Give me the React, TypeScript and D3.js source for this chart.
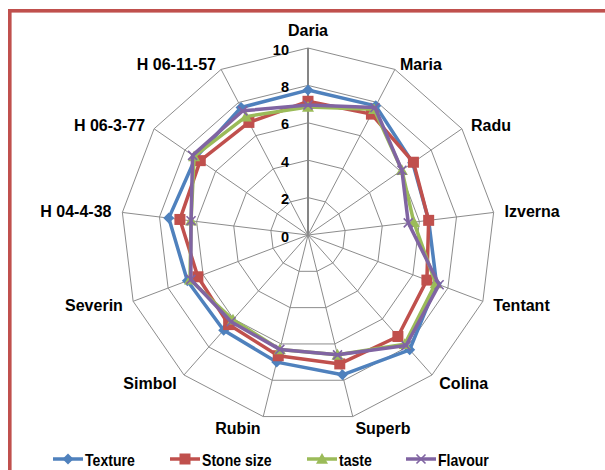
import React from "react";
import * as d3 from "d3";

const categories = [
  "Daria", "Maria", "Radu", "Izverna", "Tentant", "Colina", "Superb",
  "Rubin", "Simbol", "Severin", "H 04-4-38", "H 06-3-77", "H 06-11-57",
];

const texture = [7.75, 7.8, 6.8, 6.5, 7.35, 8.2, 7.7, 7.0, 6.8, 6.9, 7.5, 7.3, 7.7];
const stoneSize = [7.15, 7.3, 6.85, 6.5, 6.8, 7.25, 7.1, 6.65, 6.4, 6.3, 6.9, 7.0, 6.8];
const taste = [6.85, 7.6, 6.1, 5.7, 7.3, 7.8, 6.6, 6.3, 6.05, 6.75, 6.3, 7.4, 7.15];
const flavour = [6.95, 7.7, 6.1, 5.4, 7.5, 7.9, 6.6, 6.3, 6.2, 6.7, 6.3, 7.5, 7.5];

const seriesNames = ["Texture", "Stone size", "taste", "Flavour"];
const seriesColors = ["#4F81BD", "#C0504D", "#9BBB59", "#8064A2"];
const seriesMarkers = ["diamond", "square", "triangle", "x"];
const tickValues = [0, 2, 4, 6, 8, 10];

const W = 605;
const H = 470;
const CX = 308;
const CY = 235;
const R = 187;
const FONT = "'Liberation Sans', Arial, sans-serif";

function Marker({ kind, x, y, color }: { kind: string; x: number; y: number; color: string }) {
  if (kind === "diamond") {
    const s = 5.5;
    return <path d={`M${x},${y - s}L${x + s},${y}L${x},${y + s}L${x - s},${y}Z`} fill={color} />;
  }
  if (kind === "square") {
    const s = 5.5;
    return <rect x={x - s} y={y - s} width={2 * s} height={2 * s} fill={color} />;
  }
  if (kind === "triangle") {
    const s = 6;
    return <path d={`M${x},${y - s}L${x + s},${y + s * 0.8}L${x - s},${y + s * 0.8}Z`} fill={color} />;
  }
  const s = 4.5;
  return (
    <path
      d={`M${x - s},${y - s}L${x + s},${y + s}M${x - s},${y + s}L${x + s},${y - s}`}
      stroke={color}
      strokeWidth={1.6}
      fill="none"
    />
  );
}

export default function App() {
  const series = [texture, stoneSize, taste, flavour];
  const n = categories.length;
  const angle = d3.scaleLinear().domain([0, n]).range([0, 2 * Math.PI]);
  const r = d3.scaleLinear().domain([0, 10]).range([0, R]);

  const pt = (i: number, v: number): [number, number] => {
    const a = angle(i);
    return [CX + Math.sin(a) * r(v), CY - Math.cos(a) * r(v)];
  };

  const lineGen = d3
    .lineRadial<number>()
    .angle((_, i) => angle(i))
    .radius((v) => r(v))
    .curve(d3.curveLinearClosed);

  const legendX = [53, 170, 307, 406];

  return (
    <svg width={W} height={H} style={{ position: "absolute", left: 0, top: 0 }}>
      <rect x={0} y={0} width={W} height={H} fill="#fff" />
      <rect x={9.8} y={10.8} width={W + 20} height={H + 20} fill="none" stroke="#C0504D" strokeWidth={3.6} />

      {/* grid rings */}
      {tickValues.slice(1).map((t) => (
        <path
          key={t}
          d={lineGen(categories.map(() => t)) || ""}
          transform={`translate(${CX},${CY})`}
          fill="none"
          stroke="#8C8C8C"
          strokeWidth={1}
        />
      ))}
      {/* spokes */}
      {categories.map((c, i) => {
        const [x, y] = pt(i, 10);
        return (
          <line
            key={c}
            x1={CX}
            y1={CY}
            x2={x}
            y2={y}
            stroke={i === 0 ? "#868686" : "#8C8C8C"}
            strokeWidth={i === 0 ? 2 : 1}
          />
        );
      })}

      {/* tick labels */}
      {tickValues.map((t) => (
        <text
          key={t}
          x={CX - 19}
          y={CY - r(t) + 1.5}
          textAnchor="end"
          dominantBaseline="central"
          fontFamily={FONT}
          fontWeight="bold"
          fontSize={14.5}
          fill="#000"
        >
          {t}
        </text>
      ))}

      {/* category labels */}
      {categories.map((c, i) => {
        const a = angle(i);
        const s = Math.sin(a);
        const co = Math.cos(a);
        const x = CX + s * (R + 11);
        const vy = CY - co * R;
        const side = Math.abs(s) > 0.1;
        const y = co > 0 ? vy - co * (side ? 6 : 18) : vy - co * 12;
        return (
          <text
            key={c}
            x={x}
            y={y}
            textAnchor={side ? (s > 0 ? "start" : "end") : "middle"}
            dominantBaseline="central"
            fontFamily={FONT}
            fontWeight="bold"
            fontSize={16}
            fill="#000"
          >
            {c}
          </text>
        );
      })}

      {/* series */}
      {series.map((vals, si) => (
        <g key={seriesNames[si]}>
          <path
            d={lineGen(vals) || ""}
            transform={`translate(${CX},${CY})`}
            fill="none"
            stroke={seriesColors[si]}
            strokeWidth={3.5}
            strokeLinejoin="round"
          />
          {vals.map((v, i) => {
            const [x, y] = pt(i, v);
            return <Marker key={i} kind={seriesMarkers[si]} x={x} y={y} color={seriesColors[si]} />;
          })}
        </g>
      ))}

      {/* legend */}
      {seriesNames.map((name, si) => {
        const x0 = legendX[si];
        const y0 = 459;
        return (
          <g key={name}>
            <line x1={x0} y1={y0} x2={x0 + 30} y2={y0} stroke={seriesColors[si]} strokeWidth={3.5} />
            <Marker kind={seriesMarkers[si]} x={x0 + 15} y={y0} color={seriesColors[si]} />
            <text
              transform={`translate(${x0 + 32},${y0 + 1}) scale(0.88,1)`}
              dominantBaseline="central"
              fontFamily={FONT}
              fontWeight="bold"
              fontSize={16}
              fill="#000"
            >
              {name}
            </text>
          </g>
        );
      })}
    </svg>
  );
}
